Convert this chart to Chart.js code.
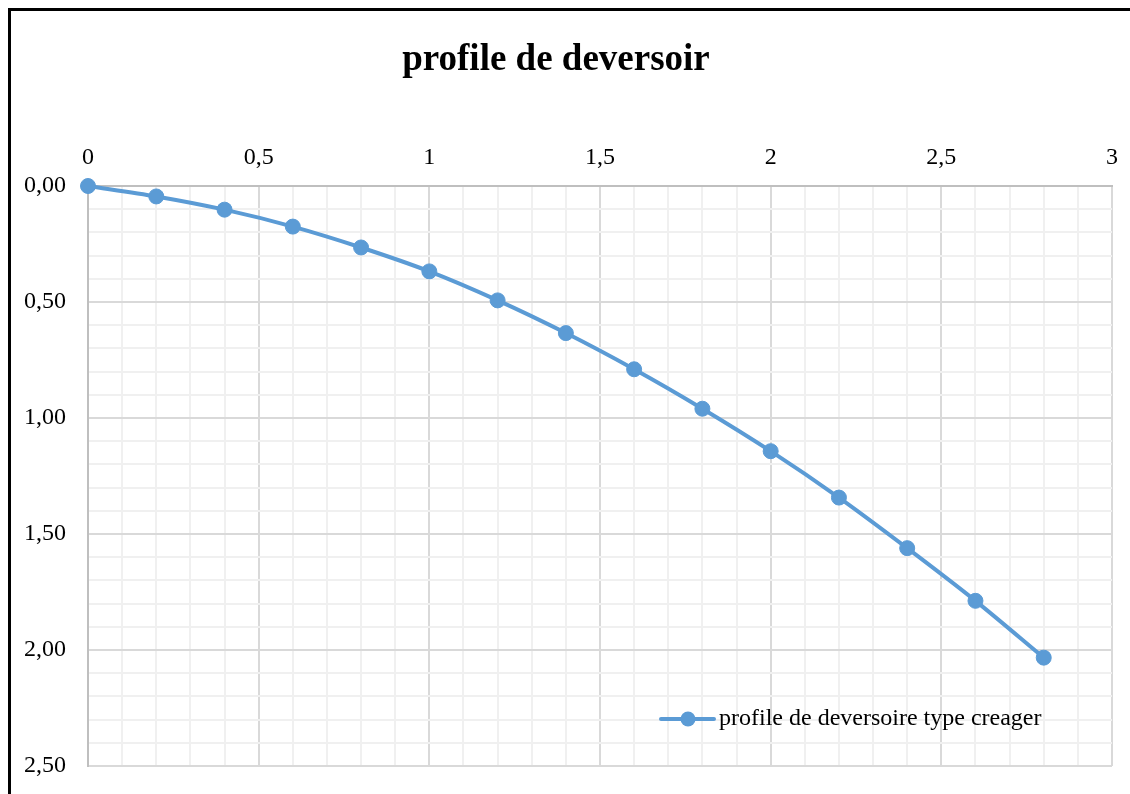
<!DOCTYPE html>
<html>
<head>
<meta charset="utf-8">
<script src="https://cdn.jsdelivr.net/npm/chart.js@4.4.1/dist/chart.umd.min.js"></script>
<style>
  html, body { margin: 0; padding: 0; background: #fff; overflow: hidden; }
  #frame {
    position: absolute; left: 8px; top: 8px; width: 1200px; height: 900px;
    border-top: 3px solid #000; border-left: 3px solid #000;
  }
  #wrap { position: absolute; left: 0; top: 0; width: 1130px; height: 794px; }
</style>
</head>
<body>
<div id="frame"></div>
<div id="wrap"><canvas id="profile-chart" width="1130" height="794"></canvas></div>
<script>
const xValues = [0, 0.2, 0.4, 0.6, 0.8, 1.0, 1.2, 1.4, 1.6, 1.8, 2.0, 2.2, 2.4, 2.6, 2.8];
const yValues = [0, 0.045, 0.102, 0.175, 0.265, 0.368, 0.493, 0.634, 0.79, 0.96, 1.143, 1.343, 1.561, 1.788, 2.033];
const xMajorTicks = [0, 0.5, 1, 1.5, 2, 2.5, 3];
const yMajorTicks = [0, 0.5, 1, 1.5, 2, 2.5];
const seriesLabel = 'profile de deversoire type creager';
const chartTitle = 'profile de deversoir';

const blue = '#5B9BD5';
const serif = "'Liberation Serif', 'Times New Roman', serif";

const isMajor = (list, v) => list.some(m => Math.abs(m - v) < 1e-6);
const gridColor = list => ctx => isMajor(list, ctx.tick.value) ? '#d9d9d9' : '#f0f0f0';

// legend drawn inside the plot, bottom right
const insideLegend = {
  id: 'insideLegend',
  afterDraw(chart) {
    const ctx = chart.ctx;
    const x = 661, y = 719;
    ctx.save();
    ctx.strokeStyle = blue;
    ctx.lineWidth = 4;
    ctx.lineCap = 'round';
    ctx.beginPath();
    ctx.moveTo(x, y);
    ctx.lineTo(x + 53, y);
    ctx.stroke();
    ctx.fillStyle = blue;
    ctx.beginPath();
    ctx.arc(x + 27, y, 7.5, 0, Math.PI * 2);
    ctx.fill();
    ctx.fillStyle = '#000';
    ctx.font = '24px ' + serif;
    ctx.textBaseline = 'middle';
    ctx.fillText(chart.data.datasets[0].label, x + 58, y);
    ctx.restore();
  }
};

const app = () => {
  new Chart(document.getElementById('profile-chart'), {
    type: 'scatter',
    data: {
      datasets: [{
        label: seriesLabel,
        data: xValues.map((x, i) => ({ x: x, y: yValues[i] })),
        showLine: true,
        borderColor: blue,
        backgroundColor: blue,
        borderWidth: 4,
        pointRadius: 7.5,
        pointBorderWidth: 1,
        pointBorderColor: blue,
        tension: 0.3,
        clip: false
      }]
    },
    options: {
      responsive: false,
      animation: false,
      layout: { padding: { left: 0, top: 10, right: 18, bottom: 28 } },
      plugins: {
        legend: { display: false },
        tooltip: { enabled: false },
        title: {
          display: true,
          text: chartTitle,
          color: '#000',
          font: { family: serif, size: 37, weight: 'bold' },
          padding: { top: 28, bottom: 0 }
        }
      },
      scales: {
        x: {
          type: 'linear',
          position: 'top',
          min: 0,
          max: 3,
          afterFit: s => { s.height = 103.6; s.paddingLeft = 0; s.paddingRight = 0; },
          border: { display: true, color: '#bfbfbf', width: 2 },
          grid: { color: gridColor(xMajorTicks), lineWidth: 2, drawTicks: false },
          ticks: {
            stepSize: 0.1,
            autoSkip: false,
            maxRotation: 0,
            padding: 14,
            color: '#000',
            font: { family: serif, size: 24 },
            callback: v => isMajor(xMajorTicks, v) ? String(Math.round(v * 10) / 10).replace('.', ',') : ''
          }
        },
        y: {
          type: 'linear',
          reverse: true,
          min: 0,
          max: 2.5,
          afterFit: s => { s.width = 88; s.paddingTop = 0; s.paddingBottom = 0; },
          border: { display: true, color: '#bfbfbf', width: 2 },
          grid: { color: gridColor(yMajorTicks), lineWidth: 2, drawTicks: false },
          ticks: {
            stepSize: 0.1,
            autoSkip: false,
            padding: 22,
            color: '#000',
            font: { family: serif, size: 24 },
            callback: v => isMajor(yMajorTicks, v) ? v.toFixed(2).replace('.', ',') : ''
          }
        }
      }
    },
    plugins: [insideLegend]
  });
};

app();
</script>
</body>
</html>
